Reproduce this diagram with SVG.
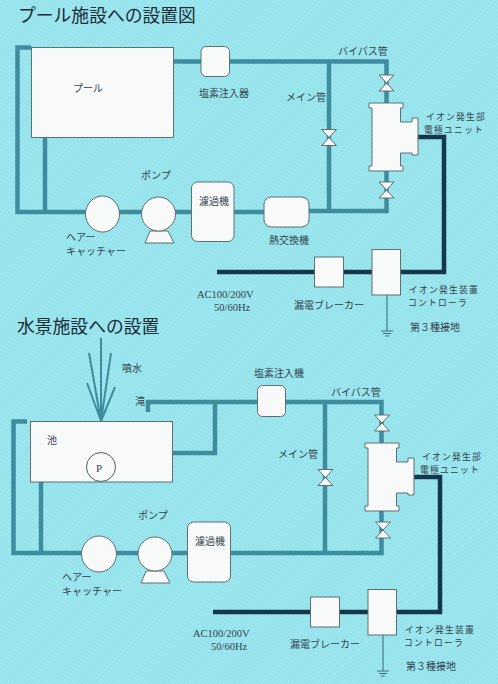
<svg xmlns="http://www.w3.org/2000/svg" width="498" height="684" viewBox="0 0 498 684">
<style>
text{font-family:"Noto Sans CJK JP","Noto Sans",sans-serif;font-size:10px;fill:#34424c}
.title{font-size:17.8px;fill:#1c2a34}
.tight{font-size:8.8px;letter-spacing:1.2px}
.latin{font-family:"Liberation Serif",serif;font-size:10.5px}
.box{fill:#f8fafa;stroke:#5f6f72;stroke-width:1}
.pipe{fill:none;stroke:#3f8c9f;stroke-width:4.5;stroke-linejoin:miter}
.cable{fill:none;stroke:#16384c;stroke-width:4.5;stroke-linejoin:miter}
.thin{fill:none;stroke:#3f7f8e;stroke-width:1.2}
.jet{fill:none;stroke:#3f8c9f;stroke-width:2}
</style>
<defs>
<pattern id="bg" width="3" height="3" patternUnits="userSpaceOnUse" patternTransform="rotate(45)">
<rect width="3" height="3" fill="#9de7ef"/>
<rect width="1" height="3" fill="#90dfe9"/>
</pattern>
<g id="valve"><path class="box" d="M-7.5 -8H7.5L-7.5 8H7.5Z"/></g>
<g id="tee"><path class="box" d="M369 103H403V108H400.5V122H412V118H418V155H412V153H400.5V166H403V171H369V166H372V108H369Z"/></g>
<g id="ground"><path d="M-6 0H6M-4 2.5H4M-2 5H2" fill="none" stroke="#3f6f7e" stroke-width="1"/></g>
</defs>
<rect width="498" height="684" fill="url(#bg)"/>

<g id="connectors">
<path class="pipe" d="M31 47.5H17.5V212H191M45 137V212M173 61.5H386.500V103M234 212H264M309 211H386.500V171M329 61.500V211"/>
<path class="cable" d="M418 137H444V272H217"/>
<path class="thin" d="M387 295V331"/>
<path class="pipe" d="M27 421.500H13.500V553H187M41 482V553M172 453H215V402M148 412V402H381.500V443M230.500 553H381.500V511M325 402V553"/>
<path class="cable" d="M414 477H440V612H213"/>
<path class="thin" d="M383 635V671"/>
<path class="jet" d="M101 421V338M101 421L89 353M101 421L111 353M101 421L87 383M101 421L115 387"/>
<path d="M101 421V452" fill="none" stroke="#8f9a9c" stroke-width="1.500" stroke-dasharray="2 1"/>
</g>

<g id="title-1"><text class="title" x="18" y="22">プール施設への設置図</text></g>
<g id="title-2"><text class="title" x="17" y="333">水景施設への設置</text></g>

<g id="pool"><rect class="box" x="31.500" y="47.500" width="142" height="90"/><text x="73" y="92">プール</text></g>
<g id="chlorine-1"><rect class="box" x="201" y="46.500" width="28.500" height="30" rx="5"/><text x="199" y="97">塩素注入器</text></g>
<g id="catcher-1"><ellipse class="box" cx="102.500" cy="214" rx="17" ry="18"/><text x="66" y="241">ヘアー</text><text x="66" y="255">キャッチャー</text></g>
<g id="pump-1"><path class="box" d="M150 231H168L174 243H145Z"/><circle class="box" cx="158.500" cy="214" r="17"/><text x="141" y="179">ポンプ</text></g>
<g id="filter-1"><rect class="box" x="191.500" y="182" width="42.500" height="59.500" rx="6"/><text x="199" y="205">濾過機</text></g>
<g id="exchanger-1"><rect class="box" x="264" y="197" width="45" height="30" rx="7"/><text x="269" y="244">熱交換機</text></g>
<g id="valves-1"><use href="#valve" x="386.500" y="83"/><use href="#valve" x="329" y="137.500"/><use href="#valve" x="386.500" y="190"/></g>
<g id="ion-1"><use href="#tee"/><text class="tight" x="426" y="120">イオン発生部</text><text class="tight" x="424" y="133">電極ユニット</text></g>
<g id="breaker-1"><rect class="box" x="314.500" y="257" width="29" height="30"/><text x="294" y="309">漏電ブレーカー</text></g>
<g id="controller-1"><rect class="box" x="372" y="249.500" width="28.500" height="45.500"/><text class="tight" x="409" y="293">イオン発生装置</text><text class="tight" x="408" y="306">コントローラ</text></g>
<g id="ground-1"><use href="#ground" x="387" y="331"/><text x="410" y="331">第３種接地</text></g>
<g id="labels-1"><text x="338" y="55">バイパス管</text><text x="286" y="101">メイン管</text><text class="latin" x="197" y="298">AC100/200V</text><text class="latin" x="214" y="311">50/60Hz</text></g>

<g id="pond"><rect class="box" x="30.500" y="421.500" width="142" height="60.500"/><text x="47" y="444">池</text></g>
<g id="submersible-pump"><circle fill="#f8fafa" stroke="#4f5f62" stroke-width="1" cx="101" cy="467" r="14.500"/><text class="latin" x="96" y="472" style="font-size:11px">P</text></g>
<g id="labels-fountain"><text x="122" y="372">噴水</text><text x="135" y="405">滝</text></g>
<g id="chlorine-2"><rect class="box" x="257.500" y="385.500" width="28" height="31" rx="5"/><text x="254" y="377">塩素注入機</text></g>
<g id="catcher-2"><ellipse class="box" cx="99" cy="554" rx="17.500" ry="18"/><text x="62" y="581">ヘアー</text><text x="62" y="595">キャッチャー</text></g>
<g id="pump-2"><path class="box" d="M146 571H164L170 583H141Z"/><circle class="box" cx="155" cy="554" r="17"/><text x="138" y="519">ポンプ</text></g>
<g id="filter-2"><rect class="box" x="187.500" y="522" width="43" height="60" rx="6"/><text x="195" y="545">濾過機</text></g>
<g id="valves-2"><use href="#valve" x="382" y="423"/><use href="#valve" x="325.500" y="477.500"/><use href="#valve" x="383" y="530"/></g>
<g id="ion-2"><use href="#tee" x="-4" y="340"/><text class="tight" x="422" y="460">イオン発生部</text><text class="tight" x="420" y="473">電極ユニット</text></g>
<g id="breaker-2"><rect class="box" x="310.500" y="597" width="29" height="30"/><text x="290" y="648">漏電ブレーカー</text></g>
<g id="controller-2"><rect class="box" x="368" y="589.500" width="28.500" height="45.500"/><text class="tight" x="405" y="633">イオン発生装置</text><text class="tight" x="404" y="646">コントローラ</text></g>
<g id="ground-2"><use href="#ground" x="383" y="671"/><text x="406" y="670">第３種接地</text></g>
<g id="labels-2"><text x="331" y="396">バイパス管</text><text x="278" y="458">メイン管</text><text class="latin" x="193" y="637">AC100/200V</text><text class="latin" x="211" y="650">50/60Hz</text></g>
</svg>
